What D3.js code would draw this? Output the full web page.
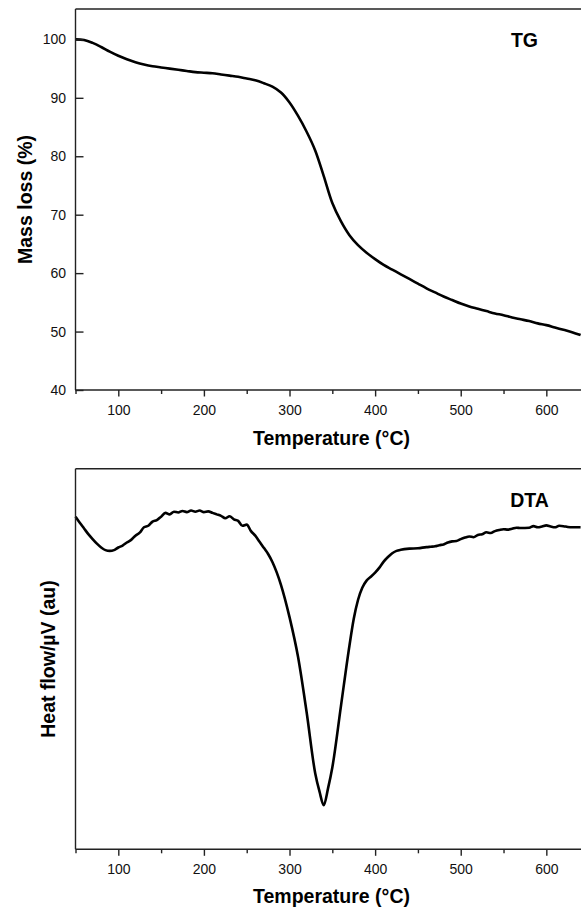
<!DOCTYPE html>
<html>
<head>
<meta charset="utf-8">
<script src="https://cdn.jsdelivr.net/npm/d3@7"></script>
<style>
  html, body { margin: 0; padding: 0; background: #fff; }
  svg { display: block; font-family: "Liberation Sans", Arial, sans-serif; }
</style>
</head>
<body>
<svg id="chart" width="581" height="907"></svg>
<script>
// ---- data ----
const tgTemp = [50,60,70,80,90,100,110,120,130,140,150,160,170,180,190,200,210,220,230,240,250,260,270,280,290,300,310,320,330,340,350,360,370,380,390,400,410,420,430,440,450,460,470,480,490,500,510,520,530,540,550,560,570,580,590,600,610,620,630,640];
const tgMass = [100.0,99.9,99.4,98.7,97.9,97.2,96.6,96.1,95.7,95.4,95.2,95.0,94.8,94.6,94.4,94.3,94.2,94.0,93.8,93.6,93.3,93.0,92.5,91.9,90.9,89.2,86.9,84.2,81.0,76.6,72.0,68.9,66.5,64.8,63.5,62.4,61.4,60.6,59.8,59.0,58.2,57.4,56.7,56.0,55.4,54.8,54.3,53.9,53.5,53.1,52.8,52.4,52.1,51.8,51.4,51.1,50.7,50.3,49.9,49.4];

const dtaTemp = [50,55,60,65,70,75,80,85,90,95,100,105,110,115,120,125,130,135,140,145,150,155,160,165,170,175,180,185,190,195,200,205,210,215,220,225,230,235,240,245,250,255,260,265,270,275,280,290,300,310,320,330,335,340,345,350,360,370,375,380,385,390,395,400,405,410,415,420,425,430,440,450,460,465,470,475,480,485,490,495,500,505,510,515,520,525,530,535,540,545,550,555,560,565,570,580,585,590,595,600,605,610,615,620,625,630,640];
const dtaFlow = [87.4,85.8,84.3,82.8,81.5,80.3,79.3,78.6,78.4,78.6,79.3,79.8,80.6,81.3,82.4,83.2,84.6,85.0,86.1,86.5,87.4,88.4,88.0,88.7,88.5,88.9,88.6,89.0,88.7,89.0,88.6,88.8,88.4,88.0,87.6,87.0,87.5,86.7,86.3,85.0,85.3,83.6,82.4,80.8,79.2,77.6,75.5,69.5,61.0,50.5,36.0,20.0,15.2,11.6,16.0,21.5,37.5,53.5,60.5,65.5,68.7,70.6,71.6,72.7,74.0,75.6,76.8,77.8,78.4,78.7,79.0,79.1,79.4,79.5,79.6,79.9,80.1,80.6,80.9,81.0,81.5,81.9,82.2,82.0,82.6,82.8,83.3,83.1,83.6,83.9,84.1,84.0,84.2,84.5,84.4,84.5,84.9,84.6,84.8,85.1,84.8,84.6,85.0,84.9,84.7,84.6,84.6];

const xMajorTicks = [100,200,300,400,500,600];
const xMinorTicks = [50,150,250,350,450,550];
const tgYTicks = [40,50,60,70,80,90,100];

const panels = [
  { top: 9, bottom: 390, label: "TG", labelX: 524.5, labelY: 46.5,
    yTitle: "Mass loss (%)", yTitleX: 31.5, xTitleY: 445 },
  { top: 468.7, bottom: 849.3, label: "DTA", labelX: 529.5, labelY: 506.5,
    yTitle: "Heat flow/\u00B5V (au)", yTitleX: 55, xTitleY: 903 }
];

const svg = d3.select("#chart");
const left = 75.5, right = 581;
const axisColor = "#222";

const x = d3.scaleLinear().domain([50, 640.5]).range([left, right]);

function drawPanel(p, yScale, temps, vals, showYTicks, curve) {
  const g = svg.append("g");

  const line = d3.line()
    .x((d, i) => x(temps[i]))
    .y(d => yScale(d))
    .curve(curve);
  g.append("path")
    .datum(vals)
    .attr("d", line)
    .attr("fill", "none")
    .attr("stroke", "#000")
    .attr("stroke-width", 2.6)
    .attr("stroke-linejoin", "round");

  g.append("line")
    .attr("x1", left).attr("x2", right + 5)
    .attr("y1", p.top).attr("y2", p.top)
    .attr("stroke", axisColor).attr("stroke-width", 1.4);

  const xAxis = d3.axisBottom(x).tickValues(xMajorTicks).tickSize(6.5).tickSizeOuter(0).tickPadding(8.5);
  const gx = g.append("g").attr("transform", `translate(0,${p.bottom})`).call(xAxis);
  gx.select(".domain").attr("stroke", axisColor).attr("stroke-width", 1.4)
    .attr("d", `M${left},0H${right + 5}`);
  gx.selectAll(".tick line").attr("stroke", axisColor).attr("stroke-width", 1.4);
  gx.selectAll(".tick text").attr("font-size", 14).attr("fill", "#111")
    .attr("font-family", "Liberation Sans, Arial, sans-serif");

  const xMinor = d3.axisBottom(x).tickValues(xMinorTicks).tickSize(4).tickSizeOuter(0).tickFormat("");
  const gxm = g.append("g").attr("transform", `translate(0,${p.bottom})`).call(xMinor);
  gxm.select(".domain").remove();
  gxm.selectAll(".tick line").attr("stroke", axisColor).attr("stroke-width", 1.4);

  const yAxis = d3.axisLeft(yScale).tickSizeOuter(0);
  if (showYTicks) {
    yAxis.tickValues(tgYTicks).tickSizeInner(-8).tickPadding(9.5);
  } else {
    yAxis.tickValues([]);
  }
  const gy = g.append("g").attr("transform", `translate(${left},0)`).call(yAxis);
  gy.select(".domain").attr("stroke", axisColor).attr("stroke-width", 1.4)
    .attr("d", `M0,${p.top}V${p.bottom}`);
  gy.selectAll(".tick line").attr("stroke", axisColor).attr("stroke-width", 1.4);
  gy.selectAll(".tick text").attr("font-size", 14).attr("fill", "#111")
    .attr("font-family", "Liberation Sans, Arial, sans-serif");

  g.append("text")
    .attr("x", p.labelX).attr("y", p.labelY)
    .attr("text-anchor", "middle")
    .attr("font-size", 19.5).attr("font-weight", "bold").attr("fill", "#000")
    .text(p.label);

  g.append("text")
    .attr("x", 331.5).attr("y", p.xTitleY)
    .attr("text-anchor", "middle")
    .attr("font-size", 19.5).attr("font-weight", "bold").attr("fill", "#000")
    .text("Temperature (\u00B0C)");

  const cy = (p.top + p.bottom) / 2;
  g.append("text")
    .attr("transform", `translate(${p.yTitleX},${cy}) rotate(-90)`)
    .attr("text-anchor", "middle")
    .attr("font-size", 19.5).attr("font-weight", "bold").attr("fill", "#000")
    .text(p.yTitle);
}

const yTG = d3.scaleLinear().domain([40, 105.2]).range([panels[0].bottom, panels[0].top]);
const yDTA = d3.scaleLinear().domain([0, 100]).range([panels[1].bottom, panels[1].top]);

drawPanel(panels[0], yTG, tgTemp, tgMass, true, d3.curveCatmullRom.alpha(0.5));
drawPanel(panels[1], yDTA, dtaTemp, dtaFlow, false, d3.curveMonotoneX);
</script>
</body>
</html>
